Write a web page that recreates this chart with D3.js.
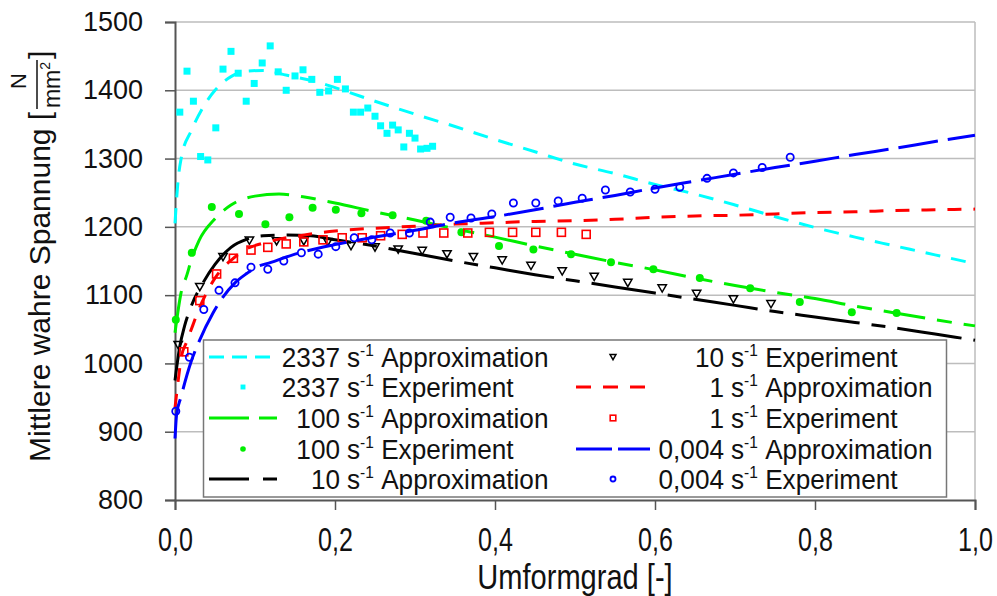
<!DOCTYPE html>
<html><head><meta charset="utf-8">
<script src="https://cdn.jsdelivr.net/npm/d3@7"></script>
<style>body{margin:0;background:#fff}svg{display:block}</style>
</head><body><svg id="c" width="997" height="596"></svg>
<script>
// ---------- data ----------
const xTicks = [0, 0.2, 0.4, 0.6, 0.8, 1.0];
const yTicks = [800, 900, 1000, 1100, 1200, 1300, 1400, 1500];

const approx2337 = [[0,1205],[0.004,1270],[0.008,1302],[0.02,1340],[0.035,1375],[0.05,1400],[0.07,1420],[0.09,1428],[0.11,1429],[0.14,1422],[0.175,1413],[0.21,1400],[0.25,1384],[0.3,1365],[0.35,1347],[0.4,1328],[0.45,1310],[0.5,1292],[0.55,1278],[0.6,1262],[0.65,1248],[0.7,1232],[0.75,1215],[0.8,1199],[0.85,1185],[0.9,1172],[0.95,1159],[1.0,1146]];
const exp2337 = [[0.006,1368],[0.015,1428],[0.023,1384],[0.032,1303],[0.041,1298],[0.051,1345],[0.06,1431],[0.07,1457],[0.079,1425],[0.089,1384],[0.099,1410],[0.109,1440],[0.119,1465],[0.129,1427],[0.139,1400],[0.15,1421],[0.16,1430],[0.171,1416],[0.181,1397],[0.192,1399],[0.203,1416],[0.213,1402],[0.223,1368],[0.232,1368],[0.241,1374],[0.25,1362],[0.257,1348],[0.265,1337],[0.272,1349],[0.279,1342],[0.286,1317],[0.293,1337],[0.3,1330],[0.307,1314],[0.315,1315],[0.322,1318]];

const approx100 = [[0,1045],[0.0075,1103],[0.015,1130],[0.02,1150],[0.03,1180],[0.05,1212],[0.07,1232],[0.1,1245],[0.13,1248],[0.16,1244],[0.2,1235],[0.25,1222],[0.3,1210],[0.35,1197],[0.4,1185],[0.45,1172],[0.5,1160],[0.55,1148],[0.6,1137],[0.65,1125],[0.7,1114],[0.75,1104],[0.8,1095],[0.85,1084],[0.9,1074],[0.95,1064],[1.0,1055]];
const exp100 = [[0.001,1064],[0.021,1162],[0.046,1229],[0.08,1219],[0.113,1204],[0.143,1214],[0.172,1228],[0.201,1225],[0.233,1220],[0.272,1217],[0.314,1209],[0.358,1192],[0.405,1172],[0.448,1167],[0.495,1160],[0.545,1148],[0.598,1138],[0.656,1125],[0.719,1110],[0.781,1090],[0.846,1075],[0.902,1074]];

const approx10 = [[0,975],[0.006,1025],[0.012,1055],[0.02,1083],[0.035,1118],[0.05,1145],[0.07,1170],[0.09,1182],[0.11,1187],[0.14,1188],[0.17,1187],[0.2,1181],[0.25,1172],[0.3,1161],[0.35,1150],[0.4,1140],[0.45,1130],[0.5,1121],[0.55,1112],[0.6,1103],[0.65,1094],[0.7,1085],[0.75,1076],[0.8,1068],[0.85,1060],[0.9,1052],[0.95,1043],[1.0,1034]];
const exp10 = [[0.004,1027],[0.031,1112],[0.06,1156],[0.093,1180],[0.127,1179],[0.161,1179],[0.191,1178],[0.22,1172],[0.25,1170],[0.279,1167],[0.309,1165],[0.34,1160],[0.373,1156],[0.409,1151],[0.445,1143],[0.484,1135],[0.524,1127],[0.566,1118],[0.609,1110],[0.652,1102],[0.698,1094],[0.745,1087]];

const approx1 = [[0,935],[0.004,975],[0.008,1010],[0.014,1030],[0.022,1055],[0.03,1080],[0.038,1100],[0.05,1125],[0.06,1140],[0.07,1151],[0.09,1168],[0.11,1176],[0.13,1182],[0.15,1186],[0.2,1194],[0.25,1198],[0.3,1201],[0.35,1204],[0.4,1206],[0.45,1208],[0.5,1209],[0.55,1211],[0.6,1214],[0.65,1216],[0.7,1217],[0.75,1219],[0.8,1221],[0.85,1222],[0.9,1224],[0.95,1225],[1.0,1226]];
const exp1 = [[0.011,1017],[0.031,1092],[0.052,1131],[0.073,1154],[0.095,1166],[0.116,1170],[0.139,1175],[0.161,1178],[0.185,1181],[0.209,1184],[0.234,1184],[0.257,1187],[0.284,1189],[0.31,1191],[0.336,1191],[0.366,1191],[0.393,1192],[0.422,1192],[0.451,1192],[0.483,1192],[0.514,1189]];

const approx0004 = [[0,890],[0.002,925],[0.0075,951],[0.02,1002],[0.03,1032],[0.0475,1074],[0.0575,1093],[0.075,1118],[0.09,1132],[0.1,1140],[0.12,1148],[0.15,1160],[0.2,1174],[0.25,1185],[0.3,1195],[0.35,1206],[0.4,1215],[0.45,1225],[0.5,1236],[0.55,1246],[0.6,1257],[0.65,1267],[0.7,1277],[0.75,1287],[0.8,1296],[0.85,1306],[0.9,1315],[0.95,1325],[1.0,1334]];
const exp0004 = [[0.001,930],[0.018,1009],[0.036,1079],[0.055,1107],[0.075,1118],[0.095,1141],[0.116,1138],[0.136,1150],[0.158,1162],[0.179,1160],[0.201,1171],[0.224,1184],[0.246,1181],[0.269,1191],[0.293,1191],[0.319,1207],[0.344,1214],[0.37,1213],[0.396,1219],[0.423,1235],[0.451,1235],[0.479,1238],[0.509,1242],[0.538,1254],[0.569,1251],[0.6,1255],[0.631,1258],[0.665,1271],[0.698,1279],[0.734,1287],[0.769,1302]];

// ---------- setup ----------
const svg = d3.select("#c");
const x = d3.scaleLinear([0, 1], [175, 975]);
const y = d3.scaleLinear([800, 1500], [500, 22]);
const REG = "'Liberation Sans',Arial,sans-serif";
const LFS = 27;     // legend font size
const NX = 0.97;    // slight horizontal condensing for the legend face

// gridlines
svg.append("g").selectAll("line").data(yTicks.filter(d => d > 800)).join("line")
  .attr("x1", x(0)).attr("x2", x(1)).attr("y1", d => y(d)).attr("y2", d => y(d))
  .attr("stroke", "#bdbdbd").attr("stroke-width", 1.5);
svg.append("line").attr("x1", x(1)).attr("x2", x(1)).attr("y1", y(1500)).attr("y2", y(800))
  .attr("stroke", "#bdbdbd").attr("stroke-width", 1.5);

// axes
const yAx = svg.append("g").attr("transform", `translate(${x(0)},0)`)
  .call(d3.axisLeft(y).tickValues(yTicks).tickSize(10).tickPadding(22).tickFormat(d => d));
yAx.select(".domain").attr("stroke", "#555").attr("stroke-width", 2);
yAx.selectAll(".tick line").attr("stroke", "#555").attr("stroke-width", 1.5);
yAx.selectAll("text").attr("font-family", REG).attr("font-size", 27).attr("fill", "#111");

const xAx = svg.append("g").attr("transform", `translate(0,${y(800)})`)
  .call(d3.axisBottom(x).tickValues(xTicks).tickSize(10).tickPadding(18).tickFormat(d => d.toFixed(1).replace(".", ",")));
xAx.select(".domain").attr("stroke", "#555").attr("stroke-width", 2);
xAx.selectAll(".tick line").attr("stroke", "#555").attr("stroke-width", 1.5);
xAx.selectAll("text").attr("font-family", REG).attr("font-size", 33).attr("fill", "#111")
  .attr("transform", "scale(0.76,1)");

// axis titles
svg.append("g").attr("transform", "translate(575,589) scale(0.83,1)")
  .append("text").attr("text-anchor", "middle")
  .attr("font-family", REG).attr("font-size", 35).attr("fill", "#111").text("Umformgrad [-]");

const yt = svg.append("g").attr("transform", "translate(50,462) rotate(-90)")
  .attr("font-family", REG).attr("fill", "#111");
yt.append("text").attr("x", 0).attr("y", 0).attr("font-size", 30).text("Mittlere wahre Spannung [");
yt.append("text").attr("x", 381).attr("y", -24).attr("text-anchor", "middle").attr("font-size", 22).text("N");
yt.append("line").attr("x1", 353).attr("x2", 402).attr("y1", -13).attr("y2", -13).attr("stroke", "#111").attr("stroke-width", 1.5);
const mm = yt.append("text").attr("x", 377).attr("y", 10).attr("text-anchor", "middle").attr("font-size", 23);
mm.append("tspan").text("mm");
mm.append("tspan").attr("font-size", 14).attr("dy", -10).text("2");
yt.append("text").attr("x", 403).attr("y", 0).attr("font-size", 30).text("]");

// ---------- series ----------
const line = d3.line().x(d => x(d[0])).y(d => y(d[1])).curve(d3.curveMonotoneX);
const series = [
  {name: "2337", color: "#00ffff", approx: approx2337, exp: exp2337, dash: "15,11", marker: "sq"},
  {name: "100", color: "#00ee00", approx: approx100, exp: exp100, dash: "42,12,15,12", marker: "dot"},
  {name: "10", color: "#000000", approx: approx10, exp: exp10, dash: "65,12,14,12", marker: "tri"},
  {name: "1", color: "#ff0000", approx: approx1, exp: exp1, dash: "14,12", marker: "osq"},
  {name: "0,004", color: "#0000ff", approx: approx0004, exp: exp0004, dash: "40,10", marker: "ocirc"}
];

function drawMarker(g, type, color, cx, cy, s) {
  if (type === "sq") g.append("rect").attr("x", cx - 3.5*s).attr("y", cy - 3.5*s).attr("width", 7*s).attr("height", 7*s).attr("fill", color);
  else if (type === "dot") g.append("circle").attr("cx", cx).attr("cy", cy).attr("r", 4*s).attr("fill", color);
  else if (type === "osq") g.append("rect").attr("x", cx - 4*s).attr("y", cy - 4*s).attr("width", 8*s).attr("height", 8*s).attr("fill", "none").attr("stroke", color).attr("stroke-width", 1.6);
  else if (type === "ocirc") g.append("circle").attr("cx", cx).attr("cy", cy).attr("r", 3.6*s).attr("fill", "none").attr("stroke", color).attr("stroke-width", 1.8);
  else if (type === "tri") g.append("path").attr("d", `M${cx-4.2*s},${cy-3.5*s}L${cx+4.2*s},${cy-3.5*s}L${cx},${cy+3.8*s}Z`).attr("fill", "none").attr("stroke", color).attr("stroke-width", 1.5);
}

const plot = svg.append("g");
series.forEach(s => {
  plot.append("path").datum(s.approx).attr("d", line).attr("fill", "none")
    .attr("stroke", s.color).attr("stroke-width", 3).attr("stroke-dasharray", s.dash);
  const mg = plot.append("g");
  s.exp.forEach(d => drawMarker(mg, s.marker, s.color, x(d[0]), y(d[1]), 1));
});

// ---------- legend ----------
const lg = svg.append("g");
lg.append("rect").attr("x", 203.5).attr("y", 340).attr("width", 743).attr("height", 157)
  .attr("fill", "#fff").attr("stroke", "#777").attr("stroke-width", 1.5);
const legendDash = {"2337": "15,8", "100": "40,10,18", "10": "40,14,14", "1": "15,12", "0,004": "36,6"};
const entries = [];
series.forEach(s => {
  entries.push({s, kind: "Approximation"});
  entries.push({s, kind: "Experiment"});
});
const rowY = [357, 387, 418, 449, 479];
entries.forEach((e, i) => {
  const col = i < 5 ? 0 : 1, row = i % 5;
  const cy = rowY[row];
  const sx0 = col === 0 ? 209 : 576, sx1 = col === 0 ? 277 : 650;
  const numEnd = col === 0 ? 340 : 724;
  if (e.kind === "Approximation") {
    lg.append("line").attr("x1", sx0).attr("x2", sx1).attr("y1", cy).attr("y2", cy)
      .attr("stroke", e.s.color).attr("stroke-width", 3).attr("stroke-dasharray", legendDash[e.s.name]);
  } else {
    drawMarker(lg, e.s.marker, e.s.color, (sx0 + sx1) / 2, cy, 0.7);
  }
  const base = cy + 10;
  lg.append("g").attr("transform", `translate(${numEnd},${base}) scale(${NX},1)`)
    .append("text").attr("text-anchor", "end")
    .attr("font-family", REG).attr("font-size", LFS).attr("fill", "#111").text(e.s.name);
  const t = lg.append("g").attr("transform", `translate(${numEnd + 7},${base}) scale(${NX},1)`)
    .append("text").attr("font-family", REG).attr("font-size", LFS).attr("fill", "#111");
  t.append("tspan").text("s");
  t.append("tspan").attr("font-size", 16).attr("dy", -11).text("-1");
  t.append("tspan").attr("dy", 11).text("\u00a0" + e.kind);
});
</script></body></html>
